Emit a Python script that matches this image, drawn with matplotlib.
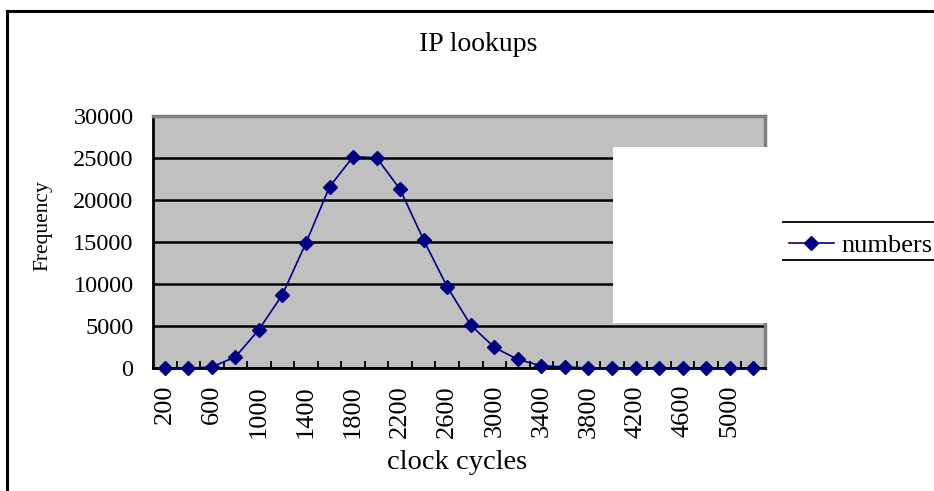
"""IP lookups: frequency of clock cycles per lookup (Excel-style line chart)."""

import matplotlib
matplotlib.use('Agg')
import matplotlib.pyplot as plt
from matplotlib.lines import Line2D
from matplotlib.patches import Rectangle
import numpy as np

# data
cycles = [200, 400, 600, 800, 1000, 1200, 1400, 1600, 1800, 2000, 2200, 2400, 2600,
          2800, 3000, 3200, 3400, 3600, 3800, 4000, 4200, 4400, 4600, 4800, 5000, 5200]
frequency = [0, 10, 160, 1350, 4600, 8770, 14920, 21580, 25160, 25040, 21270, 15240, 9680,
             5130, 2480, 1050, 300, 170, 40, 10, 0, 0, 0, 0, 0, 0]
series_name = 'numbers'
y_ticks = [0, 5000, 10000, 15000, 20000, 25000, 30000]

W, H = 934, 491
plt.rcParams['font.family'] = 'Liberation Serif'

fig = plt.figure(figsize=(W / 100, H / 100), dpi=100)
fig.patch.set_facecolor('white')

def fx(px):
    return px / W

def fy(py):
    return (H - py) / H

# plot area
ax = fig.add_axes([fx(153), fy(368.3), fx(765) - fx(153), fy(116) - fy(368.3)])
ax.set_facecolor('#C0C0C0')

x = np.arange(len(cycles))
line, = ax.plot(x, frequency, color='#000080', linewidth=1.2, marker='D',
                markersize=7, markerfacecolor='#000080', markeredgecolor='#000080',
                label=series_name, zorder=3, clip_on=False)

ax.set_xlim(-0.5, len(cycles) - 0.5)
ax.set_ylim(0, 30000)
ax.set_yticks(y_ticks)
ax.set_yticklabels([str(v) for v in y_ticks], fontsize=17.5)
ax.yaxis.grid(True, color='black', linewidth=1.8)
ax.set_axisbelow(True)
ax.tick_params(axis='y', length=0, pad=14)

# category labels on every other category, tick marks between categories
ax.set_xticks(x[::2])
ax.set_xticklabels([str(c) for c in cycles[::2]], rotation=90, fontsize=19)
ax.set_xticks(np.arange(len(cycles) + 1) - 0.5, minor=True)
ax.tick_params(axis='x', which='major', length=0, pad=12)
ax.tick_params(axis='x', which='minor', direction='in', length=5, width=1.3, color='black')

for side in ('left', 'bottom'):
    ax.spines[side].set_color('black')
    ax.spines[side].set_linewidth(2)
for side in ('top', 'right'):
    ax.spines[side].set_color('#808080')
    ax.spines[side].set_linewidth(2.5)

# white block on the right of the plot area
fig.add_artist(Rectangle((fx(612.7), fy(322.7)), fx(768) - fx(612.7), fy(146.7) - fy(322.7),
                         transform=fig.transFigure, facecolor='white', edgecolor='none',
                         zorder=5))

# titles
fig.text(fx(478), fy(51), 'IP lookups', ha='center', va='baseline', fontsize=20)
fig.text(fx(457), fy(469), 'clock cycles', ha='center', va='baseline', fontsize=20.5)
fig.text(fx(42.5), fy(226), 'Frequency', ha='center', va='center', rotation=90, fontsize=15.5)

# legend with lines above and below
fig.legend(handles=[line], loc='center left', bbox_to_anchor=(fx(789), fy(245)),
           frameon=False, fontsize=19, handlelength=1.7, handletextpad=0.3,
           borderpad=0, borderaxespad=0)
for yy in (222, 260):
    fig.add_artist(Line2D([fx(783), 1.0], [fy(yy), fy(yy)], color='black', linewidth=1.3))

# outer chart border (top and left visible)
fig.add_artist(Line2D([fx(7), fx(7)], [0, fy(11)], color='black', linewidth=2.2))
fig.add_artist(Line2D([fx(7), 1.0], [fy(11), fy(11)], color='black', linewidth=2.2))

plt.savefig('out.png', dpi=100, facecolor='white')
plt.close()
